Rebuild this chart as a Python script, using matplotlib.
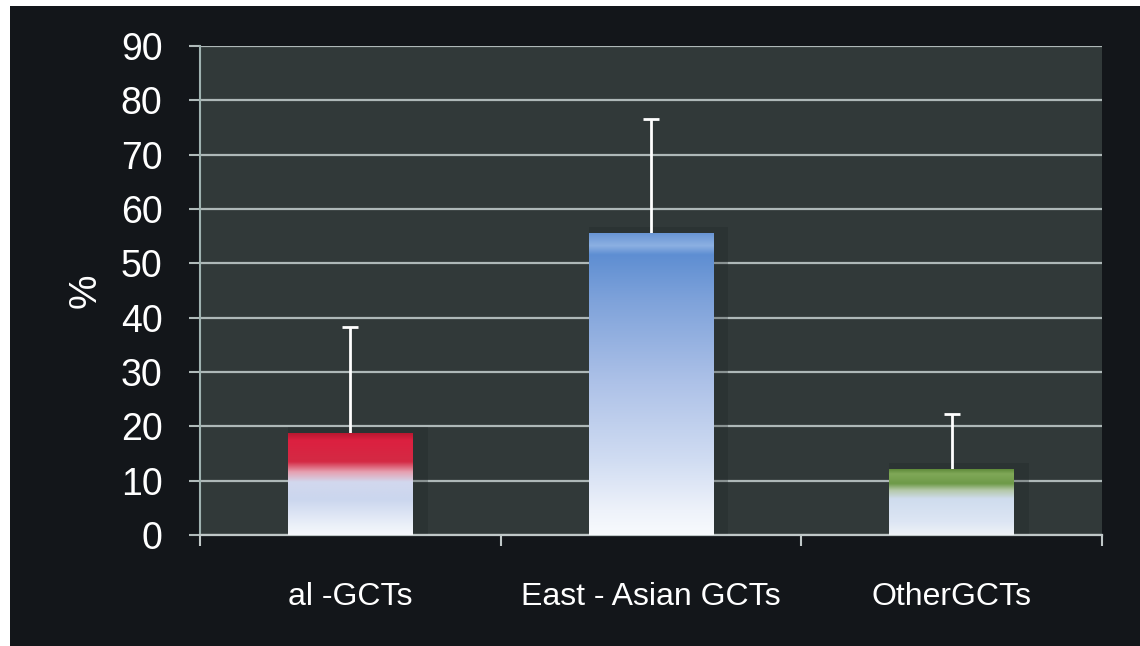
import numpy as np
import matplotlib.pyplot as plt
from matplotlib.colors import LinearSegmentedColormap
from matplotlib.patches import Rectangle

# datos
categorias = ['al -GCTs', 'East - Asian GCTs', 'OtherGCTs']
valores = [18.7, 55.4, 12.1]
error_sup = [19.5, 21.2, 10.2]
yticks = [0, 10, 20, 30, 40, 50, 60, 70, 80, 90]

# gradientes de cada barra (fraccion de la altura, color)
grad_rojo = [(0.0, '#f6f8fc'), (0.12, '#e8eef8'), (0.35, '#cbd6ee'),
             (0.52, '#d2d8ee'), (0.62, '#e6a0b0'), (0.72, '#d42a44'),
             (0.93, '#dc2040'), (1.0, '#b81830')]
grad_azul = [(0.0, '#f8fafd'), (0.08, '#eef2fa'), (0.25, '#d0dcf2'),
             (0.5, '#aec2e8'), (0.78, '#7ea2da'), (0.93, '#5e8ed2'),
             (0.96, '#8cb0e2'), (1.0, '#6a96d4')]
grad_verde = [(0.0, '#eef2f6'), (0.2, '#dde6f4'), (0.55, '#cfdcee'),
              (0.68, '#b4c8a8'), (0.78, '#6e9a48'), (0.93, '#80a858'),
              (1.0, '#5e8a3a')]
gradientes = [grad_rojo, grad_azul, grad_verde]

plt.rcParams['font.family'] = ['Liberation Sans', 'DejaVu Sans']

ventana = plt.figure(figsize=(11.4, 6.46), dpi=100, facecolor='white')
fondo = Rectangle((10/1140, 0), 1, 640/646, transform=ventana.transFigure,
                  facecolor='#13161a', edgecolor='none', zorder=-10)
ventana.add_artist(fondo)
plano = ventana.add_axes([200/1140, 111/646, 902/1140, 489/646])
plano.set_facecolor('#313939')

x = np.arange(len(categorias))
barras = plano.bar(x, valores, width=0.415, color='none', zorder=3)

# sombra y gradiente
for barra, g in zip(barras, gradientes):
    x0 = barra.get_x()
    w = barra.get_width()
    h = barra.get_height()
    plano.add_patch(Rectangle((x0, 0), w + 0.05, h + 1.2, facecolor='#1c2224',
                              edgecolor='none', alpha=0.25, zorder=2))
    cmap = LinearSegmentedColormap.from_list('g', g)
    grad = np.linspace(1, 0, 256).reshape(-1, 1)
    plano.imshow(grad, cmap=cmap, extent=(x0, x0 + w, 0, h), aspect='auto',
                 zorder=4, interpolation='bilinear')

eb = plano.errorbar(x, valores, yerr=[[0]*len(x), error_sup], fmt='none',
                    ecolor='white', elinewidth=2.0, capsize=6, capthick=2.0, zorder=3.5)
eb[1][0].set_visible(False)  # sin tapa inferior

plano.set_xlim(-0.5, 2.5)
plano.set_ylim(0, 90)
plano.set_yticks(yticks)
plano.set_yticklabels([str(v) for v in yticks])
plano.yaxis.grid(True, color='#aeb8b8', linewidth=1.6, zorder=1)
plano.set_axisbelow(True)

plano.set_xticks([-0.5, 0.5, 1.5, 2.5])
plano.set_xticklabels([])
plano.set_xticks(x, minor=True)
plano.set_xticklabels(categorias, minor=True, color='white', fontsize=23)
plano.tick_params(axis='x', which='minor', length=0, pad=34)
plano.tick_params(axis='x', which='major', length=8, width=1.5, color='#c0c8c8', direction='out')
plano.tick_params(axis='y', length=8, width=1.5, color='#b0baba', direction='out',
                  labelsize=27, labelcolor='white', pad=19)

plano.spines['top'].set_visible(False)
plano.spines['right'].set_visible(False)
plano.spines['left'].set_color('#9fb2b0')
plano.spines['left'].set_linewidth(1.5)
plano.spines['bottom'].set_color('#c0c8c8')
plano.spines['bottom'].set_linewidth(1.6)

plano.set_ylabel('%', color='white', fontsize=28, labelpad=12)

ventana.savefig('out.png', dpi=100, facecolor=ventana.get_facecolor())
